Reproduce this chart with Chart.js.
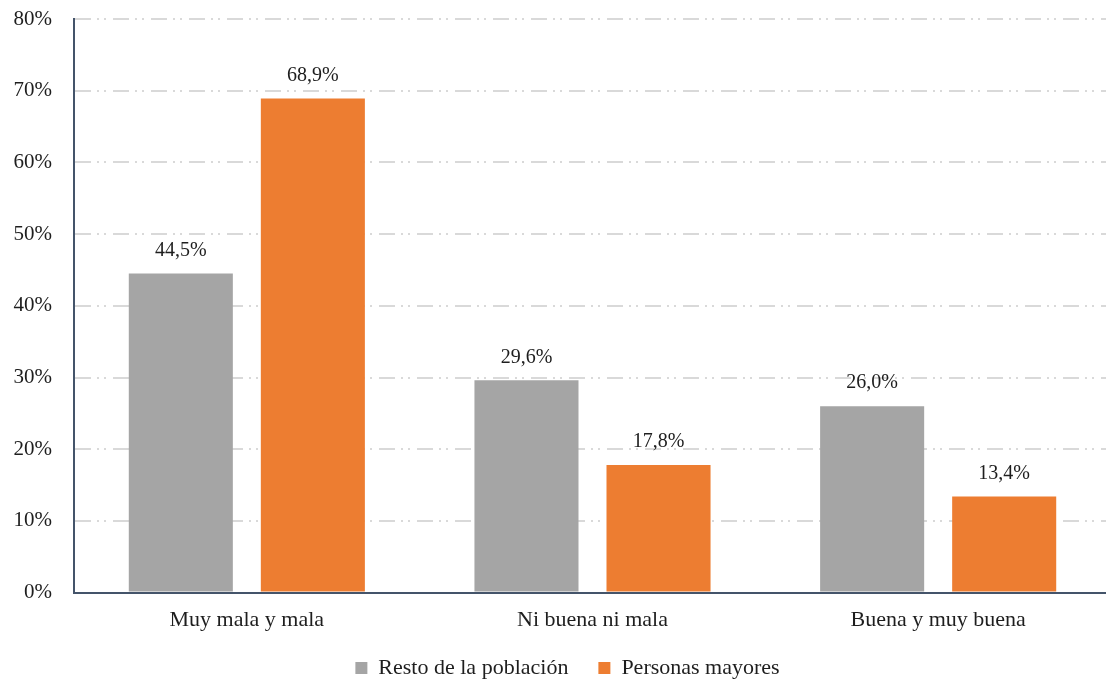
<!DOCTYPE html>
<html>
<head>
<meta charset="utf-8">
<script src="https://cdn.jsdelivr.net/npm/chart.js@4/dist/chart.umd.min.js"></script>
<style>
    html, body { margin: 0; padding: 0; background: #fff; overflow: hidden; }
    #wrap { position: relative; width: 1112px; height: 681px; }
</style>
</head>
<body>
<div id="wrap"><canvas id="chartValoracion"></canvas></div>
<script>
var categorias = ["Muy mala y mala", "Ni buena ni mala", "Buena y muy buena"];
var restoPoblacion = [44.5, 29.6, 26.0];
var personasMayores = [68.9, 17.8, 13.4];
var ticksY = [0, 10, 20, 30, 40, 50, 60, 70, 80];

var fuente = "'Liberation Serif', 'Times New Roman', serif";
var colorTexto = '#1e1e1e';

function formatoPct(v) {
    return v.toFixed(1).replace('.', ',') + '%';
}

// etiquetas de valor encima de cada barra
var etiquetasBarras = {
    id: 'etiquetasBarras',
    afterDatasetsDraw: function (chart) {
        var ctx = chart.ctx;
        ctx.save();
        ctx.font = '20px ' + fuente;
        ctx.fillStyle = colorTexto;
        ctx.textAlign = 'center';
        ctx.textBaseline = 'middle';
        chart.data.datasets.forEach(function (ds, i) {
            chart.getDatasetMeta(i).data.forEach(function (bar, j) {
                ctx.fillText(formatoPct(ds.data[j]), bar.x, bar.y - 23);
            });
        });
        ctx.restore();
    }
};

// la leyenda va algo desplazada (derecha y arriba)
var moverLeyenda = {
    id: 'moverLeyenda',
    afterLayout: function (chart) {
        var lg = chart.legend;
        if (lg) {
            lg.left += 12;
            lg.right += 12;
            lg.top -= 20;
            lg.bottom -= 20;
        }
    }
};

Chart.defaults.font.family = fuente;
Chart.defaults.font.size = 20;
Chart.defaults.color = colorTexto;

var ctx = document.getElementById('chartValoracion').getContext('2d');

var chart = new Chart(ctx, {
    type: 'bar',
    data: {
        labels: categorias,
        datasets: [{
            label: 'Resto de la población',
            data: restoPoblacion,
            backgroundColor: '#a5a5a5'
        }, {
            label: 'Personas mayores',
            data: personasMayores,
            backgroundColor: '#ed7d31'
        }]
    },
    options: {
        responsive: true,
        maintainAspectRatio: false,
        animation: false,
        categoryPercentage: 0.764,
        barPercentage: 0.788,
        layout: {
            padding: { top: 0, right: 1, bottom: -28, left: 0 }
        },
        plugins: {
            tooltip: { enabled: false },
            legend: {
                position: 'bottom',
                labels: {
                    boxWidth: 12,
                    boxHeight: 12,
                    padding: 30,
                    font: { size: 22 }
                }
            }
        },
        scales: {
            x: {
                grid: { display: false, drawTicks: false },
                border: { display: true, color: '#44546a', width: 2 },
                ticks: { padding: 14, font: { size: 22 } }
            },
            y: {
                min: 0,
                max: 80,
                afterBuildTicks: function (scale) {
                    scale.ticks = ticksY.map(function (v) { return { value: v }; });
                },
                afterFit: function (scale) {
                    scale.width = 74;
                    scale.paddingTop = 19;
                },
                grid: {
                    color: '#d9d9d9',
                    lineWidth: 2,
                    drawTicks: false
                },
                border: { display: true, color: '#44546a', width: 2, dash: [16, 6, 2, 5, 2, 7] },
                ticks: {
                    padding: 22,
                    font: { size: 21 },
                    callback: function (v) { return v + '%'; }
                }
            }
        }
    },
    plugins: [etiquetasBarras, moverLeyenda]
});
</script>
</body>
</html>
